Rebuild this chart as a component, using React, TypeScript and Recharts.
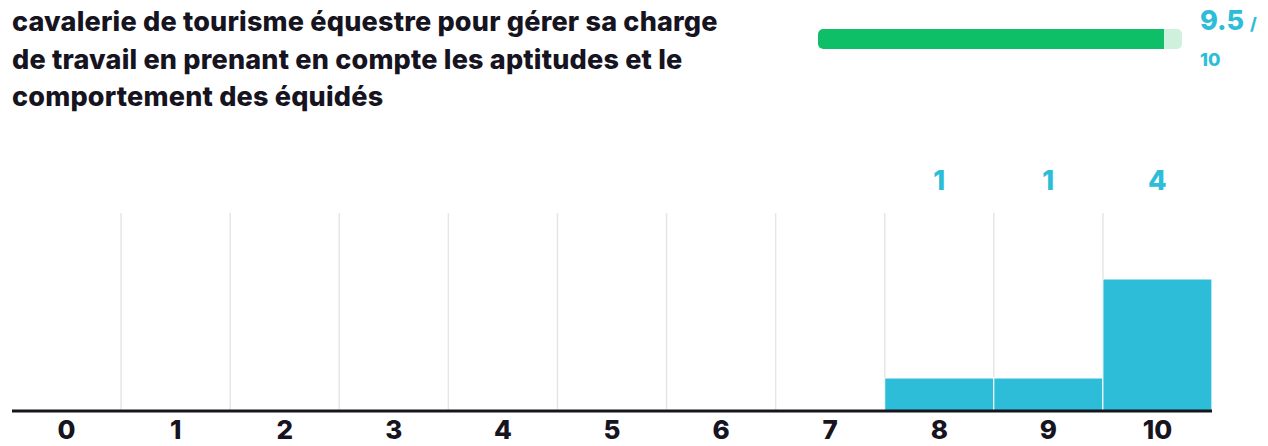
import React from 'react';
import { BarChart, Bar, XAxis, YAxis, CartesianGrid, LabelList } from 'recharts';

const TITLE_LINES = [
  'cavalerie de tourisme équestre pour gérer sa charge',
  'de travail en prenant en compte les aptitudes et le',
  'comportement des équidés',
];
const SCORES = ['0', '1', '2', '3', '4', '5', '6', '7', '8', '9', '10'];
const COUNTS = [0, 0, 0, 0, 0, 0, 0, 0, 1, 1, 4];
const AVERAGE = 9.5;
const MAX_SCORE = 10;

const CYAN = '#2dbdd8';
const DARK = '#16141f';
const GREEN = '#0fbf68';

const data = SCORES.map((score, i) => ({ score, count: COUNTS[i] }));

const CountLabel = (props: any) => {
  const { x, width, value } = props;
  if (!value) return null;
  return (
    <text
      x={x + width / 2}
      y={40}
      textAnchor="middle"
      fill={CYAN}
      fontSize={27}
      fontWeight={800}
      fontFamily="Inter, sans-serif"
    >
      {value}
    </text>
  );
};

export default function App() {
  return (
    <div
      style={{
        position: 'relative',
        width: 1268,
        height: 446,
        margin: '-8px 0 0 -8px',
        background: '#fff',
        fontFamily: 'Inter, sans-serif',
      }}
    >
      <div
        style={{
          position: 'absolute',
          left: 12,
          top: 3,
          fontSize: 27,
          fontWeight: 800,
          lineHeight: '37.5px',
          color: DARK,
          letterSpacing: 0.2,
          whiteSpace: 'nowrap',
        }}
      >
        {TITLE_LINES.map((l, i) => (
          <div key={i}>{l}</div>
        ))}
      </div>

      {/* score bar */}
      <div
        style={{
          position: 'absolute',
          left: 818,
          top: 29,
          width: 364,
          height: 20,
          borderRadius: 5,
          background: '#cdf1dd',
          overflow: 'hidden',
        }}
      >
        <div
          style={{
            width: `${(AVERAGE / MAX_SCORE) * 100}%`,
            height: '100%',
            background: GREEN,
            borderRadius: '5px 0 0 5px',
          }}
        />
      </div>
      <div
        style={{
          position: 'absolute',
          left: 1200,
          top: 4,
          color: CYAN,
          fontWeight: 800,
          fontSize: 27,
          lineHeight: '34px',
          whiteSpace: 'nowrap',
        }}
      >
        {AVERAGE}
        <span style={{ fontSize: 17, marginLeft: 6 }}>/</span>
      </div>
      <div
        style={{
          position: 'absolute',
          left: 1200,
          top: 48,
          color: CYAN,
          fontWeight: 800,
          fontSize: 18,
          lineHeight: '24px',
        }}
      >
        {MAX_SCORE}
      </div>

      <div style={{ position: 'absolute', left: 0, top: 150 }}>
        <BarChart
          width={1268}
          height={296}
          data={data}
          margin={{ top: 63, right: 56, left: 12, bottom: 0 }}
          barCategoryGap={0}
          style={{ overflow: 'visible' }}
        >
          <CartesianGrid
            horizontal={false}
            stroke="#e6e6e6"
            strokeWidth={1.5}
            verticalCoordinatesGenerator={({ offset }: any) =>
              SCORES.slice(1).map((_, i) => offset.left + ((i + 1) * offset.width) / SCORES.length)
            }
          />
          <XAxis
            dataKey="score"
            height={35}
            tickLine={false}
            tickMargin={4}
            interval={0}
            axisLine={{ stroke: DARK, strokeWidth: 3 }}
            tick={{ fill: DARK, fontSize: 26, fontWeight: 800, fontFamily: 'Inter, sans-serif' }}
          />
          <YAxis hide domain={[0, 6]} />
          <Bar dataKey="count" fill={CYAN} stroke="#fff" strokeWidth={1} isAnimationActive={false}>
            <LabelList dataKey="count" content={<CountLabel />} />
          </Bar>
        </BarChart>
      </div>
    </div>
  );
}
